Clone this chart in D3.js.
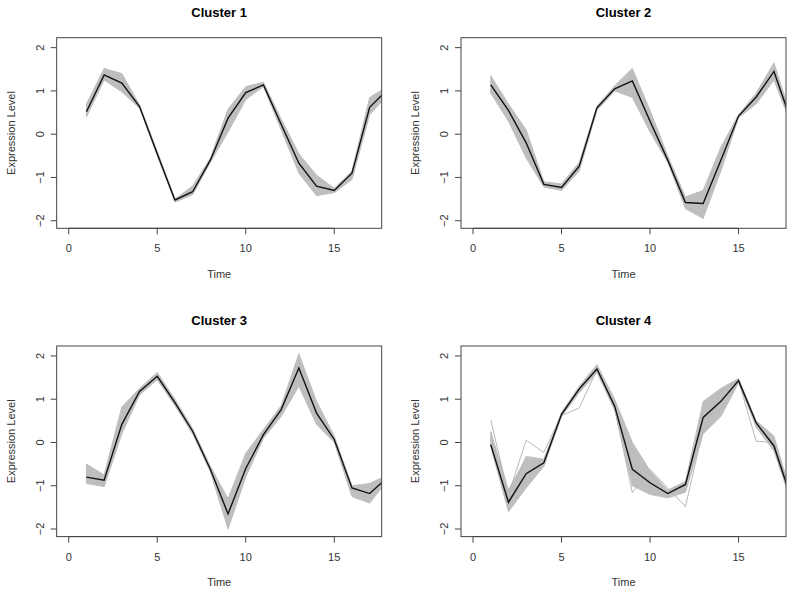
<!DOCTYPE html>
<html>
<head>
<meta charset="utf-8">
<script src="https://cdn.jsdelivr.net/npm/d3@7"></script>
<style>
  body { margin: 0; background: #fff; }
  svg { font-family: "Liberation Sans", Arial, sans-serif; }
</style>
</head>
<body>
<svg width="800" height="595"></svg>
<script>
var time = [1,2,3,4,5,6,7,8,9,10,11,12,13,14,15,16,17,18];
var xTicks = [0, 5, 10, 15];
var yTicks = [-2, -1, 0, 1, 2];
var titles = ["Cluster 1", "Cluster 2", "Cluster 3", "Cluster 4"];

// mean profile (black line) per cluster
var mean1 = [0.52,1.37,1.18,0.64,-0.45,-1.52,-1.33,-0.6,0.37,0.96,1.14,0.23,-0.67,-1.2,-1.3,-0.9,0.62,1.03];
var mean2 = [1.14,0.55,-0.2,-1.16,-1.23,-0.74,0.61,1.05,1.23,0.3,-0.6,-1.58,-1.6,-0.6,0.42,0.86,1.45,0.27];
var mean3 = [-0.8,-0.87,0.42,1.18,1.53,0.92,0.26,-0.62,-1.65,-0.6,0.18,0.76,1.72,0.68,0.07,-1.05,-1.18,-0.81];
var mean4 = [-0.05,-1.38,-0.72,-0.47,0.65,1.24,1.7,0.84,-0.62,-0.93,-1.18,-0.97,0.58,0.95,1.43,0.45,-0.08,-1.32];

// spread of the member genes (grey band), lower and upper edge
var low1  = [0.4,1.25,0.98,0.6,-0.5,-1.57,-1.4,-0.65,0.05,0.8,1.1,0.1,-0.9,-1.42,-1.35,-1.05,0.45,0.9];
var high1 = [0.7,1.52,1.4,0.68,-0.4,-1.5,-1.2,-0.55,0.58,1.1,1.2,0.35,-0.45,-0.95,-1.25,-0.85,0.85,1.1];
var low2  = [0.95,0.3,-0.55,-1.22,-1.3,-0.85,0.55,1.0,0.85,0.05,-0.65,-1.72,-1.95,-0.85,0.38,0.7,1.25,0.2];
var high2 = [1.35,0.7,0.1,-1.1,-1.15,-0.65,0.65,1.12,1.52,0.55,-0.5,-1.45,-1.3,-0.3,0.45,0.95,1.65,0.35];
var low3  = [-0.95,-1.02,0.2,1.1,1.45,0.85,0.2,-0.68,-2.0,-0.8,0.1,0.6,1.3,0.42,0.0,-1.25,-1.4,-0.88];
var high3 = [-0.5,-0.75,0.82,1.25,1.62,1.0,0.32,-0.55,-1.3,-0.25,0.3,0.85,2.05,0.95,0.15,-1.0,-0.95,-0.75];
var low4  = [-0.1,-1.6,-1.05,-0.55,0.6,1.15,1.62,0.75,-1.0,-1.2,-1.28,-1.15,0.2,0.6,1.38,0.35,-0.2,-1.4];
var high4 = [0.25,-1.1,-0.35,-0.4,0.7,1.3,1.8,1.0,0.0,-0.65,-1.1,-0.9,0.95,1.25,1.48,0.5,0.15,-1.25];

// a few single grey profiles that stand out of the band in cluster 4
var odd4a = [0.52,-1.2,0.05,-0.23,0.65,1.2,1.7,0.85,-0.55,-0.9,-1.15,-0.95,0.55,0.95,1.43,0.45,-0.08,-1.3];
var odd4b = [0.1,-1.3,-0.32,-0.39,0.62,0.8,1.68,0.85,-0.6,-0.95,-1.2,-1.0,0.5,0.9,1.42,0.03,0.0,-1.2];
var odd4c = [-0.05,-1.4,-0.7,-0.45,0.65,1.25,1.7,0.8,-1.16,-0.62,-1.05,-1.48,0.3,1.2,1.45,0.45,-0.1,-1.3];

var clusters = [
  { mean: mean1, low: low1, high: high1, odd: [] },
  { mean: mean2, low: low2, high: high2, odd: [] },
  { mean: mean3, low: low3, high: high3, odd: [] },
  { mean: mean4, low: low4, high: high4, odd: [odd4a, odd4b, odd4c] }
];

var svg = d3.select("svg");
var boxes = [
  { left: 56.7, top: 37.7 }, { left: 461, top: 37.7 },
  { left: 56.7, top: 346 },  { left: 461, top: 346 }
];
var boxW = 325, boxH = 190.6;

var drawPanel = function(c, i)
{
  var b = boxes[i];
  var g = svg.append("g").attr("transform", "translate(" + b.left + "," + b.top + ")");

  var x = d3.scaleLinear().domain([-0.68, 17.68]).range([0, boxW]);
  var y = d3.scaleLinear().domain([-2.175, 2.23]).range([boxH, 0]);

  g.append("clipPath").attr("id", "clip" + i)
    .append("rect").attr("width", boxW).attr("height", boxH);

  var plot = g.append("g").attr("clip-path", "url(#clip" + i + ")");

  var band = d3.area()
    .x(function(d, k) { return x(time[k]); })
    .y0(function(d, k) { return y(c.low[k]); })
    .y1(function(d, k) { return y(c.high[k]); });

  plot.append("path").datum(c.low)
    .attr("d", band)
    .attr("fill", "#bebebe")
    .attr("stroke", "#bebebe")
    .attr("stroke-width", 1);

  var line = d3.line()
    .x(function(d, k) { return x(time[k]); })
    .y(function(d) { return y(d); });

  plot.selectAll(".odd").data(c.odd).enter()
    .append("path")
    .attr("d", line)
    .attr("fill", "none")
    .attr("stroke", "#b8b8b8")
    .attr("stroke-width", 1);

  plot.append("path").datum(c.mean)
    .attr("d", line)
    .attr("fill", "none")
    .attr("stroke", "#111")
    .attr("stroke-width", 1.4);

  g.append("rect").attr("width", boxW).attr("height", boxH)
    .attr("fill", "none").attr("stroke", "#444").attr("stroke-width", 1);

  // x axis
  var xa = g.append("g").attr("transform", "translate(0," + boxH + ")");
  xa.selectAll("line").data(xTicks).enter().append("line")
    .attr("x1", function(d) { return x(d); }).attr("x2", function(d) { return x(d); })
    .attr("y1", 0).attr("y2", 6).attr("stroke", "#444");
  xa.append("line").attr("x1", x(0)).attr("x2", x(15)).attr("stroke", "#444");
  xa.selectAll("text").data(xTicks).enter().append("text")
    .attr("x", function(d) { return x(d); }).attr("y", 24)
    .attr("text-anchor", "middle").attr("font-size", 11).attr("fill", "#333")
    .text(function(d) { return d; });

  // y axis
  var ya = g.append("g");
  ya.selectAll("line").data(yTicks).enter().append("line")
    .attr("y1", function(d) { return y(d); }).attr("y2", function(d) { return y(d); })
    .attr("x1", 0).attr("x2", -6).attr("stroke", "#444");
  ya.selectAll("text").data(yTicks).enter().append("text")
    .attr("transform", function(d) { return "translate(-13," + y(d) + ") rotate(-90)"; })
    .attr("text-anchor", "middle").attr("font-size", 11).attr("fill", "#333")
    .text(function(d) { return d < 0 ? "\u2212" + (-d) : d; });

  g.append("text")
    .attr("x", boxW / 2).attr("y", -21)
    .attr("text-anchor", "middle").attr("font-size", 13).attr("font-weight", "bold")
    .text(titles[i]);

  g.append("text")
    .attr("x", boxW / 2).attr("y", boxH + 49.5)
    .attr("text-anchor", "middle").attr("font-size", 11).attr("fill", "#333")
    .text("Time");

  g.append("text")
    .attr("transform", "translate(-42," + boxH / 2 + ") rotate(-90)")
    .attr("text-anchor", "middle").attr("font-size", 11).attr("fill", "#333")
    .text("Expression Level");
}

clusters.forEach(drawPanel);
</script>
</body>
</html>
